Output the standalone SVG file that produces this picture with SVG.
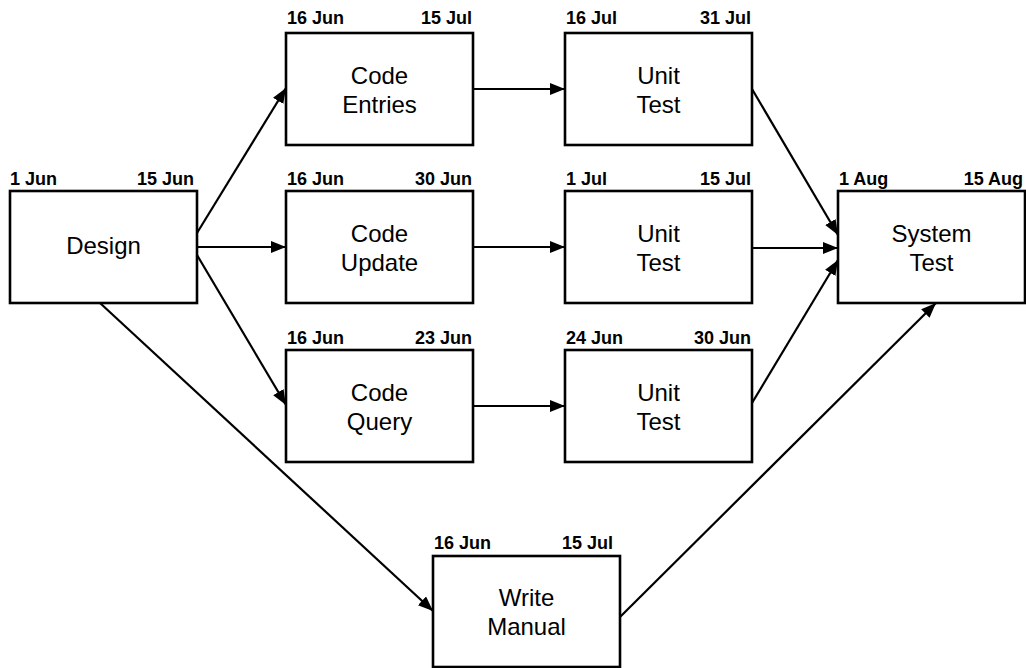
<svg xmlns="http://www.w3.org/2000/svg" width="1026" height="668" viewBox="0 0 1026 668">
<style>
  .box { fill: #ffffff; stroke: #000000; stroke-width: 2.6; }
  .title { font-family: "Liberation Sans", Arial, sans-serif; font-size: 24px; fill: #000000; text-anchor: middle; }
  .date { font-family: "Liberation Sans", Arial, sans-serif; font-size: 18px; font-weight: bold; fill: #000000; }
  .end { text-anchor: end; }
  .conn { stroke: #000000; stroke-width: 2.2; fill: none; marker-end: url(#arrow); }
</style>
<defs>
  <marker id="arrow" markerUnits="userSpaceOnUse" markerWidth="16" markerHeight="14" refX="15" refY="6" orient="auto">
    <path d="M0,0 L15,6 L0,12 Z" fill="#000000"/>
  </marker>
</defs>
<rect width="1026" height="668" fill="#ffffff"/>

<g id="connectors">
  <line class="conn" x1="197" y1="233" x2="286" y2="88"/>
  <line class="conn" x1="197" y1="247" x2="286" y2="247"/>
  <line class="conn" x1="197" y1="255" x2="286" y2="405"/>
  <line class="conn" x1="100" y1="303" x2="433" y2="611"/>
  <line class="conn" x1="473" y1="89" x2="565" y2="89"/>
  <line class="conn" x1="473" y1="247" x2="565" y2="247"/>
  <line class="conn" x1="473" y1="406" x2="565" y2="406"/>
  <line class="conn" x1="752" y1="89" x2="838" y2="235"/>
  <line class="conn" x1="752" y1="248" x2="838" y2="248"/>
  <line class="conn" x1="752" y1="403" x2="838" y2="260"/>
  <line class="conn" x1="620" y1="617" x2="936" y2="303"/>
</g>

<g id="design">
  <rect class="box" x="10" y="191" width="187" height="112"/>
  <text class="date" x="10" y="185">1 Jun</text>
  <text class="date end" x="194" y="185">15 Jun</text>
  <text class="title" x="103.5" y="254">Design</text>
</g>

<g id="code-entries">
  <rect class="box" x="286" y="33" width="187" height="112"/>
  <text class="date" x="287" y="24">16 Jun</text>
  <text class="date end" x="472" y="24">15 Jul</text>
  <text class="title" x="379.5" y="84">Code</text>
  <text class="title" x="379.5" y="113">Entries</text>
</g>

<g id="unit-test-1">
  <rect class="box" x="565" y="33" width="187" height="112"/>
  <text class="date" x="566" y="24">16 Jul</text>
  <text class="date end" x="751" y="24">31 Jul</text>
  <text class="title" x="658.5" y="84">Unit</text>
  <text class="title" x="658.5" y="113">Test</text>
</g>

<g id="code-update">
  <rect class="box" x="286" y="191" width="187" height="112"/>
  <text class="date" x="287" y="185">16 Jun</text>
  <text class="date end" x="472" y="185">30 Jun</text>
  <text class="title" x="379.5" y="242">Code</text>
  <text class="title" x="379.5" y="271">Update</text>
</g>

<g id="unit-test-2">
  <rect class="box" x="565" y="191" width="187" height="112"/>
  <text class="date" x="566" y="185">1 Jul</text>
  <text class="date end" x="751" y="185">15 Jul</text>
  <text class="title" x="658.5" y="242">Unit</text>
  <text class="title" x="658.5" y="271">Test</text>
</g>

<g id="system-test">
  <rect class="box" x="838" y="191" width="187" height="112"/>
  <text class="date" x="839" y="185">1 Aug</text>
  <text class="date end" x="1023" y="185">15 Aug</text>
  <text class="title" x="931.5" y="242">System</text>
  <text class="title" x="931.5" y="271">Test</text>
</g>

<g id="code-query">
  <rect class="box" x="286" y="350" width="187" height="112"/>
  <text class="date" x="287" y="344">16 Jun</text>
  <text class="date end" x="472" y="344">23 Jun</text>
  <text class="title" x="379.5" y="401">Code</text>
  <text class="title" x="379.5" y="430">Query</text>
</g>

<g id="unit-test-3">
  <rect class="box" x="565" y="350" width="187" height="112"/>
  <text class="date" x="566" y="344">24 Jun</text>
  <text class="date end" x="751" y="344">30 Jun</text>
  <text class="title" x="658.5" y="401">Unit</text>
  <text class="title" x="658.5" y="430">Test</text>
</g>

<g id="write-manual">
  <rect class="box" x="433" y="556" width="187" height="111"/>
  <text class="date" x="434" y="549">16 Jun</text>
  <text class="date end" x="613" y="549">15 Jul</text>
  <text class="title" x="526.5" y="606">Write</text>
  <text class="title" x="526.5" y="635">Manual</text>
</g>
</svg>
